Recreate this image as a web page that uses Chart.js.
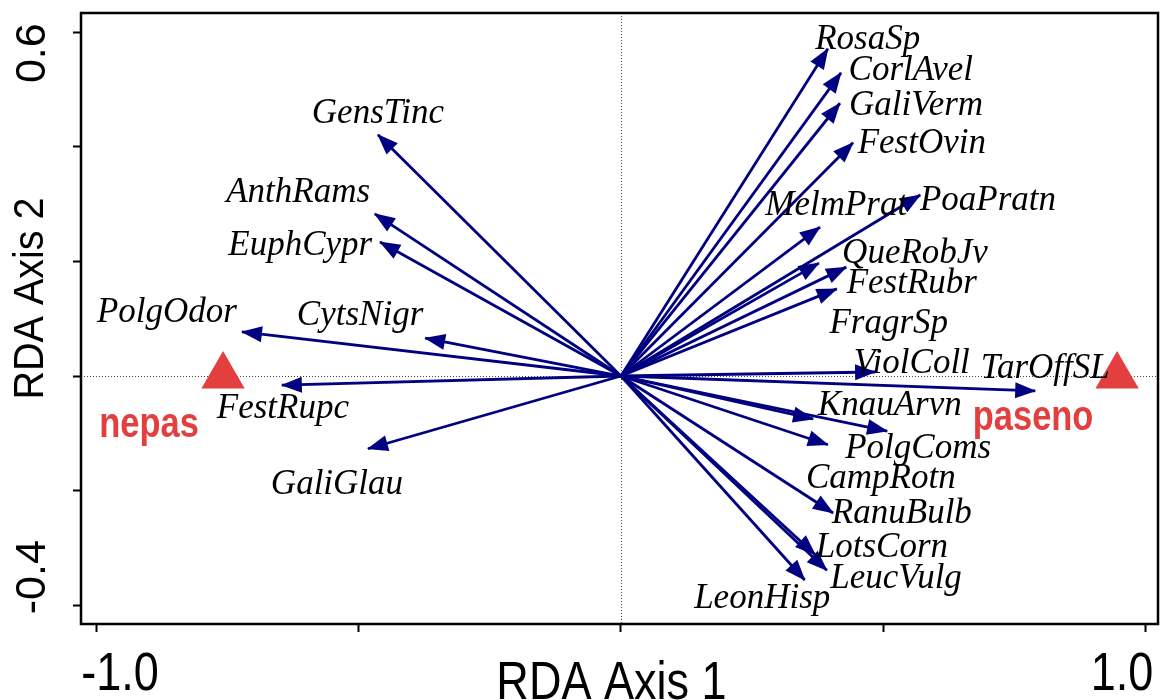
<!DOCTYPE html>
<html>
<head>
<meta charset="utf-8">
<script src="https://cdn.jsdelivr.net/npm/chart.js@4.4.0/dist/chart.umd.min.js"></script>
<style>
  body { margin: 0; background: #fff; }
  #wrap { width: 1162px; height: 700px; }
</style>
</head>
<body>
<div id="wrap"><canvas id="rda"></canvas></div>
<script>
"use strict";

// species scores on RDA axes 1 and 2 (arrow tips)
var speciesNames = ['GensTinc', 'AnthRams', 'EuphCypr', 'PolgOdor', 'CytsNigr', 'FestRupc', 'GaliGlau',
                    'RosaSp', 'CorlAvel', 'GaliVerm', 'FestOvin', 'MelmPrat', 'PoaPratn', 'QueRobJv',
                    'FestRubr', 'FragrSp', 'ViolColl', 'TarOffSL', 'KnauArvn', 'PolgComs', 'CampRotn',
                    'RanuBulb', 'LotsCorn', 'LeucVulg', 'LeonHisp'];
var speciesX = [-0.463, -0.469, -0.459, -0.722, -0.373, -0.646, -0.482,
                 0.394, 0.419, 0.417, 0.442, 0.379, 0.570, 0.429,
                 0.411, 0.377, 0.484, 0.789, 0.366, 0.507, 0.394,
                 0.404, 0.370, 0.392, 0.350];
var speciesY = [0.421, 0.283, 0.234, 0.077, 0.066, -0.016, -0.127,
                0.571, 0.529, 0.476, 0.407, 0.260, 0.316, 0.190,
                0.152, 0.197, 0.007, -0.026, -0.075, -0.096, -0.120,
                -0.239, -0.312, -0.339, -0.356];

// where the species names sit (text centre, baseline)
var speciesLabelX = [-0.463, -0.615, -0.611, -0.865, -0.497, -0.644, -0.541,
                      0.470, 0.552, 0.562, 0.573, 0.410, 0.699, 0.560,
                      0.554, 0.510, 0.554, 0.808, 0.512, 0.566, 0.495,
                      0.535, 0.497, 0.524, 0.269];
var speciesLabelY = [0.442, 0.304, 0.211, 0.094, 0.089, -0.073, -0.206,
                     0.571, 0.517, 0.455, 0.389, 0.281, 0.290, 0.197,
                     0.145, 0.075, 0.005, -0.003, -0.068, -0.143, -0.195,
                     -0.257, -0.316, -0.370, -0.405];

// nominal explanatory variable (centroids)
var siteNames = ['nepas', 'paseno'];
var siteX = [-0.758, 0.945];
var siteY = [0.0, 0.0];
var siteLabelX = [-0.899, 0.785];
var siteLabelY = [-0.106, -0.094];

// axes
var xRange = [-1.0286, 1.0229];
var yRange = [-0.4328, 0.6335];
var xTicks = [-1.0, -0.5, 0, 0.5, 1.0];
var yTicks = [-0.4, -0.2, 0, 0.2, 0.4, 0.6];
var xLabelValues = [-1.0, 1.0];
var xLabelText = ['-1.0', '1.0'];
var yLabelValues = [-0.4, 0.6];
var yLabelText = ['-0.4', '0.6'];
var xTitle = 'RDA Axis 1';
var yTitle = 'RDA Axis 2';

var arrowColour = '#000080';
var siteColour = '#e33f3f';

function sansText(ctx, str, x, y, size, sx, align, rotate, bold) {
    ctx.save();
    ctx.translate(x, y);
    if (rotate) ctx.rotate(-Math.PI / 2);
    ctx.scale(sx, 1);
    ctx.font = (bold ? 'bold ' : '') + size + 'px "Liberation Sans", Arial, sans-serif';
    ctx.textAlign = align;
    ctx.textBaseline = 'alphabetic';
    ctx.fillText(str, 0, 0);
    ctx.restore();
}

var biplot = {
    id: 'biplot',
    beforeDatasetsDraw: function (chart) {
        var ctx = chart.ctx, xs = chart.scales.x, ys = chart.scales.y, a = chart.chartArea;
        var x0 = Math.round(xs.getPixelForValue(0)) + 0.5;
        var y0 = Math.round(ys.getPixelForValue(0)) + 0.5;
        ctx.save();
        ctx.strokeStyle = '#444';
        ctx.lineWidth = 1;
        ctx.setLineDash([1, 2]);
        ctx.beginPath();
        ctx.moveTo(x0, a.top); ctx.lineTo(x0, a.bottom);
        ctx.moveTo(a.left, y0); ctx.lineTo(a.right, y0);
        ctx.stroke();
        ctx.restore();
    },
    afterDatasetsDraw: function (chart) {
        var ctx = chart.ctx, xs = chart.scales.x, ys = chart.scales.y, a = chart.chartArea;
        var ox = xs.getPixelForValue(0), oy = ys.getPixelForValue(0);

        // arrow heads
        ctx.save();
        ctx.fillStyle = arrowColour;
        for (var i = 0; i < speciesNames.length; i++) {
            var tx = xs.getPixelForValue(speciesX[i]);
            var ty = ys.getPixelForValue(speciesY[i]);
            var ang = Math.atan2(ty - oy, tx - ox);
            ctx.save();
            ctx.translate(tx, ty);
            ctx.rotate(ang);
            ctx.beginPath();
            ctx.moveTo(1, 0);
            ctx.lineTo(-20, -8);
            ctx.lineTo(-20, 8);
            ctx.closePath();
            ctx.fill();
            ctx.restore();
        }
        ctx.restore();

        // species names
        ctx.save();
        ctx.fillStyle = '#000';
        ctx.font = 'italic 35px "Liberation Serif", "Times New Roman", serif';
        ctx.textAlign = 'center';
        ctx.textBaseline = 'alphabetic';
        for (var j = 0; j < speciesNames.length; j++) {
            ctx.fillText(speciesNames[j],
                xs.getPixelForValue(speciesLabelX[j]),
                ys.getPixelForValue(speciesLabelY[j]));
        }
        ctx.restore();

        // site names
        ctx.save();
        ctx.fillStyle = siteColour;
        for (var k = 0; k < siteNames.length; k++) {
            sansText(ctx, siteNames[k], xs.getPixelForValue(siteLabelX[k]),
                ys.getPixelForValue(siteLabelY[k]), 42, 0.82, 'center', false, true);
        }
        ctx.restore();

        // frame
        ctx.save();
        ctx.strokeStyle = '#000';
        ctx.lineWidth = 2.5;
        ctx.strokeRect(a.left, a.top, a.right - a.left, a.bottom - a.top);
        ctx.restore();

        // tick labels and titles
        ctx.save();
        ctx.fillStyle = '#000';
        for (var m = 0; m < xLabelValues.length; m++) {
            var px = xs.getPixelForValue(xLabelValues[m]);
            var shift = xLabelValues[m] < 0 ? 24 : -24;
            sansText(ctx, xLabelText[m], px + shift, a.bottom + 66, 53, 0.85, 'center', false);
        }
        for (var n = 0; n < yLabelValues.length; n++) {
            var py = ys.getPixelForValue(yLabelValues[n]);
            var sh = yLabelValues[n] < 0 ? -28 : 21;
            sansText(ctx, yLabelText[n], a.left - 36, py + sh, 43, 1.0, 'center', true);
        }
        sansText(ctx, xTitle, (a.left + a.right) / 2 - 8, a.bottom + 75, 53, 0.85, 'center', false);
        sansText(ctx, yTitle, a.left - 38, (a.top + a.bottom) / 2 - 20, 43, 0.92, 'center', true);
        ctx.restore();
    }
};

var datasets = [];
for (var i = 0; i < speciesNames.length; i++) {
    datasets.push({
        label: speciesNames[i],
        data: [{x: 0, y: 0}, {x: speciesX[i], y: speciesY[i]}],
        showLine: true,
        borderColor: arrowColour,
        borderWidth: 2.8,
        borderCapStyle: 'butt',
        pointRadius: 0,
        pointHoverRadius: 0,
        fill: false
    });
}
datasets.push({
    label: 'sites',
    data: siteX.map(function (x, i) { return {x: x, y: siteY[i]}; }),
    pointStyle: 'triangle',
    pointRadius: 25,
    pointHoverRadius: 25,
    backgroundColor: siteColour,
    borderColor: siteColour,
    borderWidth: 0
});

var ctx = document.getElementById('rda');
var rdaChart = new Chart(ctx, {
    type: 'scatter',
    data: { datasets: datasets },
    plugins: [biplot],
    options: {
        responsive: true,
        maintainAspectRatio: false,
        animation: false,
        events: [],
        layout: { autoPadding: false, padding: { left: 73, right: 4, top: 13, bottom: 68 } },
        plugins: { legend: { display: false }, tooltip: { enabled: false } },
        scales: {
            x: {
                type: 'linear',
                min: xRange[0],
                max: xRange[1],
                afterBuildTicks: function (scale) {
                    scale.ticks = xTicks.map(function (v) { return {value: v}; });
                },
                ticks: { display: false },
                grid: { display: true, drawOnChartArea: false, drawTicks: true, tickLength: 8,
                        tickColor: '#000', tickWidth: 2, color: '#000' },
                border: { display: false }
            },
            y: {
                type: 'linear',
                min: yRange[0],
                max: yRange[1],
                afterBuildTicks: function (scale) {
                    scale.ticks = yTicks.map(function (v) { return {value: v}; });
                },
                ticks: { display: false },
                grid: { display: true, drawOnChartArea: false, drawTicks: true, tickLength: 8,
                        tickColor: '#000', tickWidth: 2, color: '#000' },
                border: { display: false }
            }
        }
    }
});
</script>
</body>
</html>
